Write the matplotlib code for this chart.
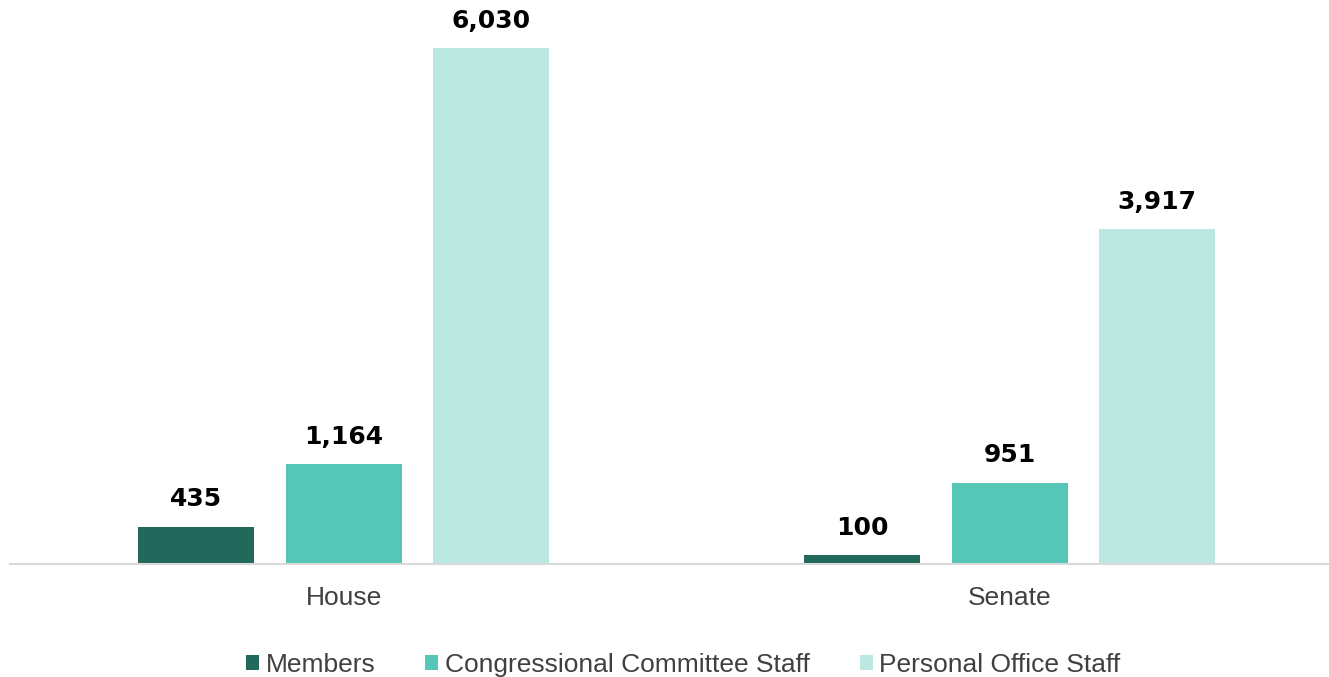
import matplotlib
matplotlib.use("Agg")
import matplotlib.pyplot as plt
from matplotlib.patches import Patch
import numpy as np

categories = ["House", "Senate"]
series_names = ["Members", "Congressional Committee Staff", "Personal Office Staff"]
members = [435, 100]
committee = [1164, 951]
personal = [6030, 3917]
colors = ["#22695B", "#56C6B6", "#BBE8E1"]

plt.rcParams['font.family'] = ['Liberation Sans', 'DejaVu Sans']

W, H = 1329, 677
fig = plt.figure(figsize=(W / 100, H / 100), dpi=100)
ax = fig.add_axes([10 / W, (H - 564) / H, 1319 / W, 564 / H])

x = np.arange(len(categories))
width = 0.174
offsets = [-0.222, 0.0, 0.221]
for vals, off, col in zip([members, committee, personal], offsets, colors):
    bars = ax.bar(x + off, vals, width=width, color=col, zorder=2)
    for b, v in zip(bars, vals):
        ax.annotate(f"{v:,}", (b.get_x() + b.get_width() / 2, v),
                    xytext=(0, 11), textcoords="offset points",
                    ha="center", va="bottom", fontsize=18, fontweight="heavy",
                    color="black", family="DejaVu Sans")

ax.set_xlim(-0.5015, 1.479)
ax.set_ylim(0, 6591)
for s in ["top", "right", "left"]:
    ax.spines[s].set_visible(False)
ax.spines["bottom"].set_color("#D9D9D9")
ax.spines["bottom"].set_linewidth(1.5)
ax.set_yticks([])
ax.set_xticks(x)
ax.set_xticklabels(categories, fontsize=19, color="#404040")
ax.tick_params(axis="x", length=0, pad=16)

handles = [Patch(facecolor=c, edgecolor="none") for c in colors]
fig.legend(handles, series_names, loc="center", bbox_to_anchor=(0.514, 0.0175),
           ncol=3, frameon=False, fontsize=19, labelcolor="#404040",
           handlelength=0.5, handleheight=0.5, handletextpad=0.23,
           columnspacing=1.9, borderaxespad=0, borderpad=0)

fig.savefig("out.png", dpi=100)
